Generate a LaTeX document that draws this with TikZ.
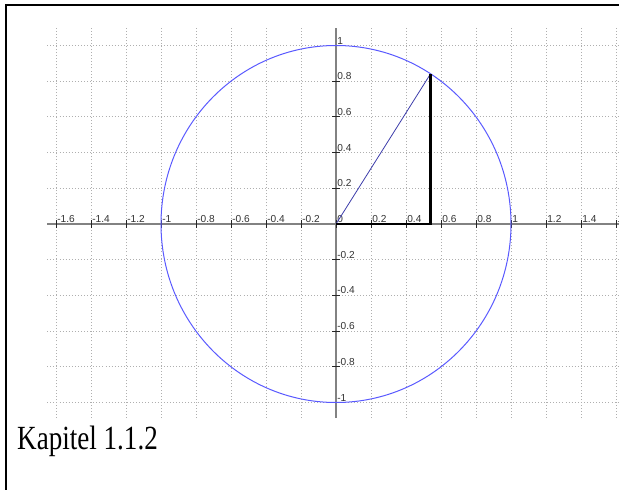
\documentclass[tikz,border=0pt]{standalone}
\usepackage{fontspec}
\setmainfont{Liberation Serif}
\setsansfont{Liberation Sans}
\usepackage{xcolor}
\usepackage{tikz}
\usetikzlibrary{calc}

\definecolor{circblue}{RGB}{90,90,255}
\definecolor{radblue}{RGB}{60,60,170}
\definecolor{gridgray}{RGB}{175,175,175}
\definecolor{axisgray}{RGB}{130,130,130}

\begin{document}
\begin{tikzpicture}[
    x=131.25pt, y=133.875pt,
    gridline/.style={gridgray, line width=0.7pt, dash pattern=on 0.7pt off 1.6pt},
    axisline/.style={axisgray, line width=1.3pt},
    tickmark/.style={black!85, line width=0.7pt},
    ticklabel/.style={font=\sffamily\fontsize{7.6}{8}\selectfont, text=black!80,
                      inner sep=0.8pt, anchor=south west},
    unitcircle/.style={circblue, line width=0.75pt},
    radline/.style={radblue, line width=0.6pt},
    leg/.style={black, line width=1.8pt, line join=miter},
    framebar/.style={black, line width=1.8pt},
]

%% --- Page and frame ---
\useasboundingbox (-1.92,-1.4846) rectangle (1.6171,1.2549);
\clip (-1.92,-1.4846) rectangle (1.6171,1.2549);
\draw[framebar] (-1.884,-1.6) -- (-1.884,1.2258) -- (1.7,1.2258);

%% --- Grid ---
\foreach \gx in {-1.6,-1.4,-1.2,-1,-0.8,-0.6,-0.4,-0.2,0,0.2,0.4,0.6,0.8,1,1.2,1.4,1.6}
    \draw[gridline] (\gx,-1.087) -- (\gx,1.098);
\foreach \gy in {-1,-0.8,-0.6,-0.4,-0.2,0,0.2,0.4,0.6,0.8,1}
    \draw[gridline] (-1.65,\gy) -- (1.62,\gy);

%% --- Axes ---
\coordinate (xmin) at (-1.65,0);
\coordinate (xmax) at (1.62,0);
\coordinate (ymin) at (0,-1.087);
\coordinate (ymax) at (0,1.098);
\draw[axisline] (xmin) -- (xmax);
\draw[axisline] (ymin) -- (ymax);

%% --- Ticks and labels ---
\foreach \v [count=\i] in {-1.6,-1.4,-1.2,-1,-0.8,-0.6,-0.4,-0.2,0,0.2,0.4,0.6,0.8,1,1.2,1.4,1.6} {
    \draw[tickmark] (\v,0) ++(0,3pt) -- ++(0,-6pt);
    \node[ticklabel] (xl\i) at (\v,0) {\v};
}
\foreach \v [count=\i] in {-1,-0.8,-0.6,-0.4,-0.2,0.2,0.4,0.6,0.8,1} {
    \draw[tickmark] (0,\v) ++(-3pt,0) -- ++(6pt,0);
    \node[ticklabel] (yl\i) at (0,\v) {\v};
}

%% --- Unit circle and triangle ---
\coordinate (O) at (0,0);
\coordinate (P) at ({cos(1 r)},{sin(1 r)});
\coordinate (F) at ({cos(1 r)},0);
\draw[unitcircle] (O) circle [radius=1];
\draw[radline] (O) -- (P);
\draw[leg] (O) -- (F) -- (P);

%% --- Caption ---
\begin{scope}[shift={(-1.823,-1.2605)}, yscale=1.25]
\node[font=\fontsize{20.3}{24}\selectfont, anchor=base west, inner sep=0pt,
      transform shape] (caption) at (0,0) {Kapitel 1.1.2};
\end{scope}

\end{tikzpicture}
\end{document}
